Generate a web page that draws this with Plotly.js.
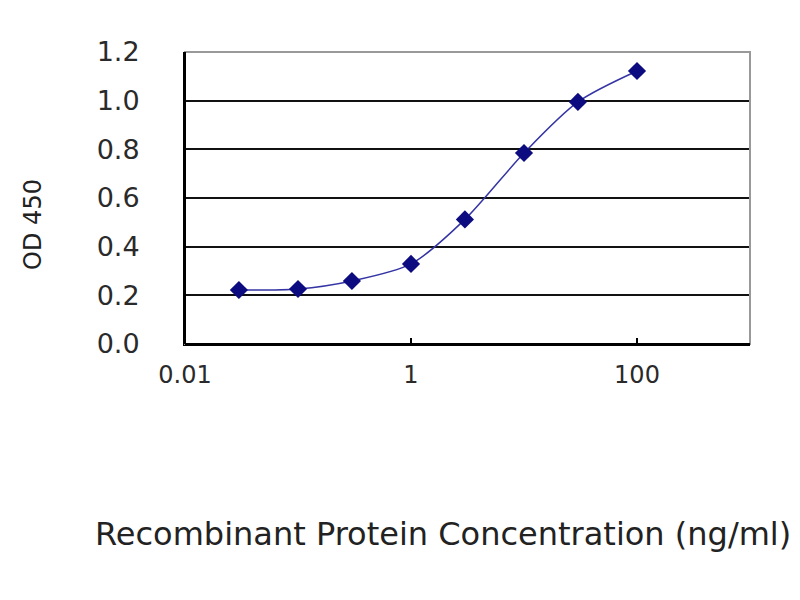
<!DOCTYPE html>
<html>
<head>
<meta charset="utf-8">
<script src="https://cdn.plot.ly/plotly-3.0.1.min.js"></script>
<style>html,body{margin:0;padding:0;background:#fff;}#chart{width:800px;height:600px;}</style>
</head>
<body>
<div id="chart"></div>
<script>
// Concentration (ng/ml) and OD450 readings
const concentration = [0.03, 0.1, 0.3, 1, 3, 10, 30, 100];
const od450 = [0.222, 0.226, 0.259, 0.329, 0.512, 0.785, 0.995, 1.122];
const xTickVals = [0.01, 1, 100];
const xTickText = ['0.01', '1', '100'];
const yTickVals = [0, 0.2, 0.4, 0.6, 0.8, 1.0, 1.2];
const yTickText = ['0.0', '0.2', '0.4', '0.6', '0.8', '1.0', '1.2'];
const xTitle = 'Recombinant Protein Concentration (ng/ml)';
const yTitle = 'OD 450';

const trace = {
  x: concentration,
  y: od450,
  type: 'scatter',
  mode: 'lines+markers',
  line: {color: '#3434a4', width: 1.5, shape: 'spline', smoothing: 0.8},
  marker: {symbol: 'diamond', size: 14, color: '#0c0c80'},
  showlegend: false
};

const layout = {
  width: 800, height: 600,
  paper_bgcolor: '#ffffff', plot_bgcolor: '#ffffff',
  margin: {l: 185, r: 50, t: 52, b: 256, autoexpand: false},
  font: {family: 'DejaVu Sans, Arial, sans-serif', color: '#222'},
  xaxis: {
    type: 'log', range: [-2, 3],
    tickvals: xTickVals, ticktext: xTickText,
    tickfont: {size: 24, color: '#2a2a2a'},
    ticks: 'inside', ticklen: 6, tickwidth: 2, tickcolor: '#000',
    ticklabelstandoff: 8,
    showgrid: false, zeroline: false,
    showline: true, linecolor: '#000', linewidth: 2,
    automargin: false
  },
  yaxis: {
    range: [0, 1.2],
    tickvals: yTickVals, ticktext: yTickText,
    tickfont: {size: 27, color: '#2a2a2a'},
    ticks: '', ticklabelstandoff: 38,
    showgrid: true, gridcolor: '#111', gridwidth: 2,
    zeroline: false,
    showline: true, linecolor: '#000', linewidth: 2,
    automargin: false
  },
  annotations: [
    {text: xTitle, xref: 'paper', yref: 'paper', x: 0.457, y: -0.652,
     xanchor: 'center', yanchor: 'middle', showarrow: false,
     font: {size: 32, color: '#222'}},
    {text: yTitle, xref: 'paper', yref: 'paper', x: -0.269, y: 0.408,
     xanchor: 'center', yanchor: 'middle', textangle: -90, showarrow: false,
     font: {size: 24, color: '#222'}}
  ],
  shapes: [
    {type: 'rect', xref: 'paper', yref: 'paper', x0: 0, x1: 1, y0: 0, y1: 1,
     line: {color: '#999', width: 2}, fillcolor: 'rgba(0,0,0,0)', layer: 'above'},
    {type: 'line', xref: 'paper', yref: 'paper', x0: 0, x1: 0, y0: 0, y1: 1,
     line: {color: '#000', width: 2}, layer: 'above'},
    {type: 'line', xref: 'paper', yref: 'paper', x0: 0, x1: 1, y0: 0, y1: 0,
     line: {color: '#000', width: 2}, layer: 'above'}
  ]
};

Plotly.newPlot('chart', [trace], layout, {displayModeBar: false, staticPlot: true});
</script>
</body>
</html>
